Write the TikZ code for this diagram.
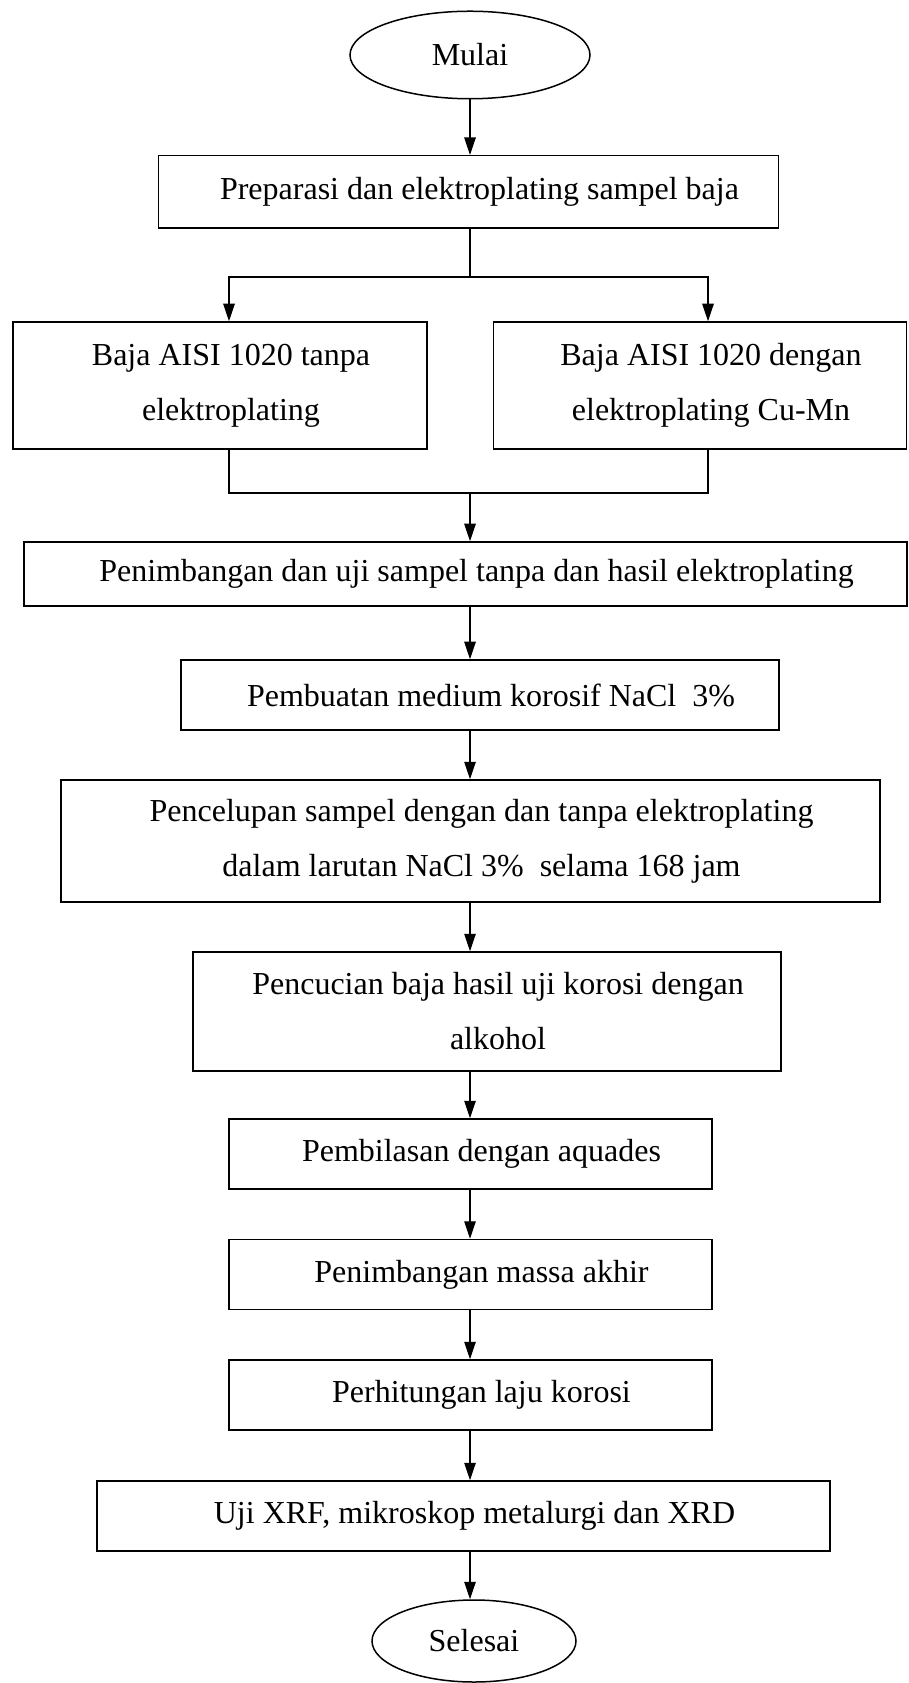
\documentclass[tikz,border=0pt]{standalone}
\usepackage{fontspec}
\setmainfont{Liberation Serif}
\usetikzlibrary{arrows.meta,positioning,shapes.geometric}
\newcommand\ind{\hspace*{8.8pt}}
\tikzset{box/.style={draw,line width=0.6pt,rectangle,align=center,inner sep=2pt,
    font=\fontsize{12.8}{22}\selectfont,execute at begin node=\ind},
  term/.style={draw,line width=0.6pt,ellipse,inner sep=0pt,font=\fontsize{12.8}{14}\selectfont},
  arr/.style={line width=0.5pt,-{Triangle[length=7pt,width=4.6pt]}},
  link/.style={line width=0.5pt}}

\begin{document}
\begin{tikzpicture}[x=0.4pt,y=-0.4pt]
\useasboundingbox (0,0) rectangle (908,1683);
% start
\node[term,minimum width=96pt,minimum height=35pt] (mulai) at (470,55) {Mulai};
\node[box,minimum width=248pt,minimum height=29pt] (prep) at (468.5,192) {Preparasi dan elektroplating sampel baja};
% two sample groups
\node[box,minimum width=165.6pt,minimum height=50.8pt] (tanpa) at (220,385.5) {Baja AISI 1020 tanpa\\elektroplating};
\node[box,minimum width=165.2pt,minimum height=50.8pt] (dengan) at (700,385.5) {Baja AISI 1020 dengan\\elektroplating Cu-Mn};
\coordinate (split) at (470,277);
\coordinate (merge) at (470,493);
% main chain
\node[box,minimum width=353.2pt,minimum height=25.6pt] (timbang) at (465.5,574) {Penimbangan dan uji sampel tanpa dan hasil elektroplating};
\node[box,minimum width=239.2pt,minimum height=28pt] (medium) at (480,695) {Pembuatan medium korosif NaCl~ 3\%};
\node[box,minimum width=327.6pt,minimum height=48.8pt] (celup) at (470.5,841) {Pencelupan sampel dengan dan tanpa elektroplating\\dalam larutan NaCl 3\%~ selama 168 jam};
\node[box,minimum width=235.2pt,minimum height=47.6pt] (cuci) at (487,1011.5) {Pencucian baja hasil uji korosi dengan\\alkohol};
\node[box,minimum width=193.2pt,minimum height=28pt] (bilas) at (470.5,1154) {Pembilasan dengan aquades};
\node[box,minimum width=193.2pt,minimum height=28pt] (massa) at (470.5,1274.5) {Penimbangan massa akhir};
\node[box,minimum width=193.2pt,minimum height=28pt] (laju) at (470.5,1395) {Perhitungan laju korosi};
\node[box,minimum width=293.2pt,minimum height=28pt] (uji) at (463.5,1516) {Uji XRF, mikroskop metalurgi dan XRD};
\node[term,minimum width=81.6pt,minimum height=32.8pt] (selesai) at (474,1641) {Selesai};

\draw[arr] (mulai.south) -- (mulai.south |- prep.north);
\draw[link] (mulai.south |- prep.south) -- (split);
\draw[arr] (split) -| ([xshift=3.6pt]tanpa.north);
\draw[arr] (split) -| ([xshift=3.2pt]dengan.north);
\draw[link] ([xshift=3.6pt]tanpa.south) |- (merge) -| ([xshift=3.2pt]dengan.south);
\draw[arr] (merge) -- (mulai.south |- timbang.north);
\foreach \a/\b in {timbang/medium,medium/celup,celup/cuci,cuci/bilas,bilas/massa,massa/laju,laju/uji,uji/selesai}
  \draw[arr] (mulai.south |- \a.south) -- (mulai.south |- \b.north);
\end{tikzpicture}
\end{document}
